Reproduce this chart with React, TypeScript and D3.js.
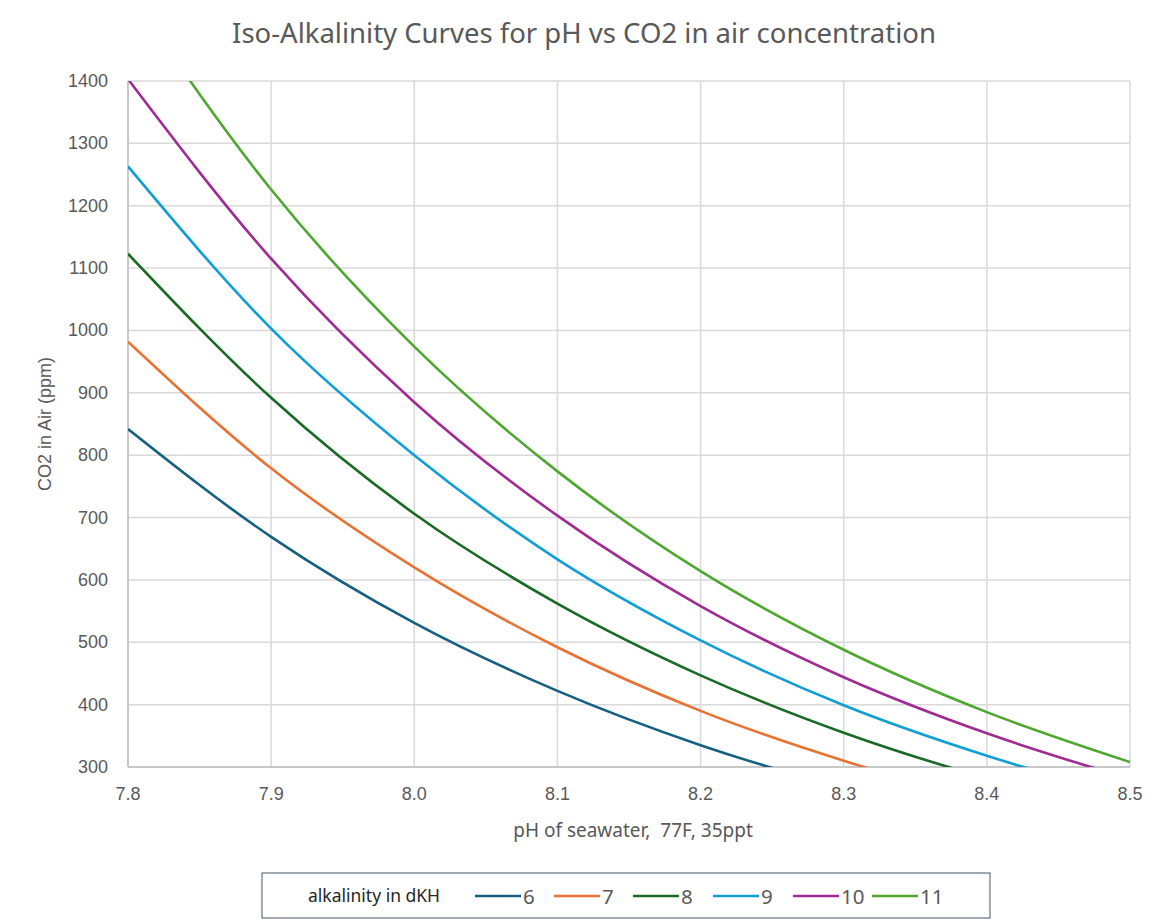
import * as d3 from 'd3';

const phTicks = [7.8, 7.9, 8.0, 8.1, 8.2, 8.3, 8.4, 8.5];
const co2Ticks = [300, 400, 500, 600, 700, 800, 900, 1000, 1100, 1200, 1300, 1400];

// pH sample points shared by every curve
const phValues = [7.8, 7.9, 8.0, 8.1, 8.2, 8.3, 8.4, 8.5];

const alkalinities = ['6', '7', '8', '9', '10', '11'];
const dkh6 = [842, 669, 531, 422, 335, 266, 211, 168];
const dkh7 = [982, 779, 620, 492, 390, 310, 246, 196];
const dkh8 = [1123, 892, 706, 562, 447, 355, 282, 224];
const dkh9 = [1263, 1003, 800, 633, 503, 399, 318, 252];
const dkh10 = [1403, 1115, 885, 703, 558, 444, 354, 281];
const dkh11 = [1544, 1226, 974, 774, 614, 488, 388, 308];
const seriesValues = [dkh6, dkh7, dkh8, dkh9, dkh10, dkh11];
const colors = ['#156082', '#E97132', '#196B24', '#0F9ED5', '#A02B93', '#4EA72E'];

const W = 1170;
const H = 921;
const margin = { top: 81, right: 40, bottom: 154, left: 128 };

export default function App() {
  const x = d3.scaleLinear().domain([7.8, 8.5]).range([margin.left, W - margin.right]);
  const y = d3.scaleLinear().domain([300, 1400]).range([H - margin.bottom, margin.top]);

  const line = d3
    .line<[number, number]>()
    .x(d => x(d[0]))
    .y(d => y(d[1]))
    .curve(d3.curveMonotoneX);

  const x0 = x(7.8);
  const x1 = x(8.5);
  const y0 = y(300);
  const y1 = y(1400);
  const textGray = '#595959';

  // legend layout
  const legendX = [475, 554, 633, 713, 793, 872];

  return (
    <svg width={W} height={H} style={{ position: 'absolute', left: 0, top: 0, background: '#fff' }}>
      <defs>
        <clipPath id="plot-clip">
          <rect x={x0} y={y1} width={x1 - x0} height={y0 - y1} />
        </clipPath>
      </defs>

      <text
        x={584}
        y={43}
        textAnchor="middle"
        fontFamily="'Noto Sans', sans-serif"
        fontSize={27.5}
        fill={textGray}
      >
        Iso-Alkalinity Curves for pH vs CO2 in air concentration
      </text>

      {/* grid */}
      {co2Ticks.map(t => (
        <line key={'gy' + t} x1={x0} x2={x1} y1={y(t)} y2={y(t)} stroke="#d9d9d9" strokeWidth={1.5} />
      ))}
      {phTicks.map(t => (
        <line key={'gx' + t} x1={x(t)} x2={x(t)} y1={y1} y2={y0} stroke="#d9d9d9" strokeWidth={1.5} />
      ))}
      <line x1={x0} x2={x0} y1={y1} y2={y0} stroke="#bfbfbf" strokeWidth={1.5} />
      <line x1={x0} x2={x1} y1={y0} y2={y0} stroke="#bfbfbf" strokeWidth={1.5} />

      {/* tick labels */}
      {co2Ticks.map(t => (
        <text
          key={'ty' + t}
          x={x0 - 20}
          y={y(t) + 6}
          textAnchor="end"
          fontFamily="'Liberation Sans', Arial, sans-serif"
          fontSize={18}
          fill={textGray}
        >
          {t}
        </text>
      ))}
      {phTicks.map(t => (
        <text
          key={'tx' + t}
          x={x(t)}
          y={y0 + 33}
          textAnchor="middle"
          fontFamily="'Liberation Sans', Arial, sans-serif"
          fontSize={18}
          fill={textGray}
        >
          {d3.format('.1f')(t)}
        </text>
      ))}

      {/* axis titles */}
      <text
        x={633}
        y={837}
        textAnchor="middle"
        fontFamily="'Noto Sans', sans-serif"
        fontSize={19}
        fill={textGray}
        style={{ whiteSpace: 'pre' }}
      >
        {'pH of seawater,  77F, 35ppt'}
      </text>
      <text
        transform={`translate(51, ${(y0 + y1) / 2}) rotate(-90)`}
        textAnchor="middle"
        fontFamily="'Liberation Sans', Arial, sans-serif"
        fontSize={18}
        fill={textGray}
      >
        CO2 in Air (ppm)
      </text>

      {/* curves */}
      <g clipPath="url(#plot-clip)">
        {seriesValues.map((vals, i) => (
          <path
            key={alkalinities[i]}
            d={line(phValues.map((p, j) => [p, vals[j]] as [number, number])) || ''}
            fill="none"
            stroke={colors[i]}
            strokeWidth={2.6}
          />
        ))}
      </g>

      {/* legend */}
      <rect x={262} y={873} width={728} height={45} fill="#fff" stroke="#44546A" strokeWidth={1} />
      <text x={308} y={902} fontFamily="'Noto Sans', sans-serif" fontSize={17.5} fill="#262626">
        alkalinity in dKH
      </text>
      {alkalinities.map((a, i) => (
        <g key={'lg' + a}>
          <line
            x1={legendX[i]}
            x2={legendX[i] + 46}
            y1={896}
            y2={896}
            stroke={colors[i]}
            strokeWidth={2.6}
          />
          <text
            x={legendX[i] + 48}
            y={904}
            fontFamily="'Noto Sans', sans-serif"
            fontSize={20.5}
            fill={textGray}
          >
            {a}
          </text>
        </g>
      ))}
    </svg>
  );
}
